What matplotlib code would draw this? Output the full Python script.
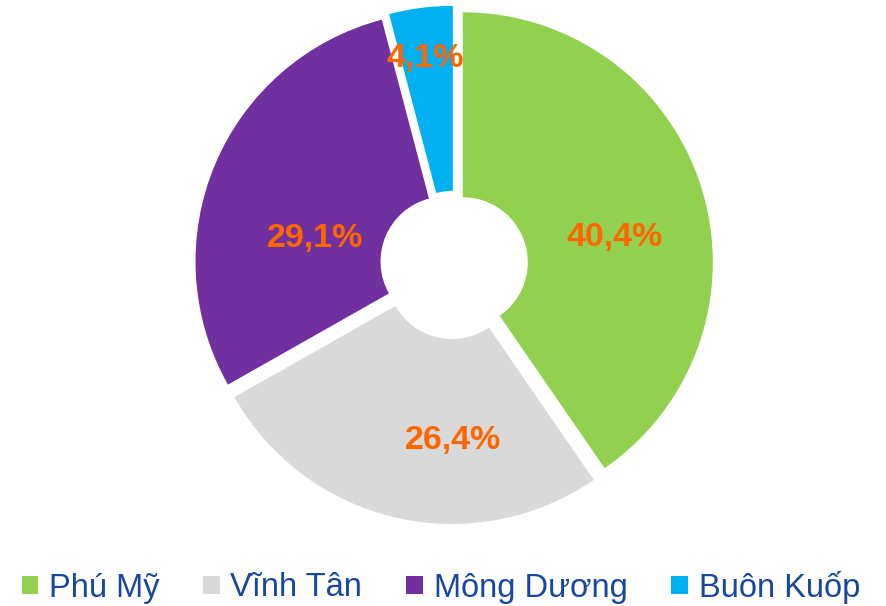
import matplotlib.pyplot as plt
from matplotlib.patches import Patch

# data
plants = ['Phú Mỹ', 'Vĩnh Tân', 'Mông Dương', 'Buôn Kuốp']
shares = [40.4, 26.4, 29.1, 4.1]
colors = ['#92D050', '#D9D9D9', '#7030A0', '#00B0F0']

plt.rcParams['font.family'] = ['Liberation Sans', 'DejaVu Sans']

fig = plt.figure(figsize=(8.87, 6.06), dpi=100)
ax = fig.add_axes([0, 0, 1, 1])
ax.axis('off')

R = 250
# explode is in data units here (pixels)
wedges, texts, autotexts = ax.pie(
    shares, colors=colors, startangle=90, counterclock=False,
    radius=R, center=(454, 341), explode=[9.2] * 4,
    wedgeprops=dict(width=R * 0.74, edgecolor='none'),
    autopct=lambda p: f'{p:.1f}%'.replace('.', ','), pctdistance=0.62,
    textprops=dict(color='#FF6600', fontsize=24.5, fontweight='bold'))
ax.set_xlim(0, 887)
ax.set_ylim(0, 606)
ax.set_aspect('equal')

# label placement as in the original (shifted toward horizontal)
label_xy = [(615, 606 - 238), (453, 606 - 441), (315, 606 - 239), (425, 606 - 59)]
for t, xy in zip(autotexts, label_xy):
    t.set_position(xy)
    t.set_ha('center')
    t.set_va('center')

handles = [Patch(facecolor=c, edgecolor='none') for c in colors]
fig.legend(handles, plants, loc='center', bbox_to_anchor=(0.497, 1 - 587 / 606),
           ncol=4, frameon=False, fontsize=23.5, labelcolor='#17479E',
           handlelength=0.5, handleheight=0.5, handletextpad=0.33,
           columnspacing=1.35)

fig.savefig('out.png', dpi=100)
